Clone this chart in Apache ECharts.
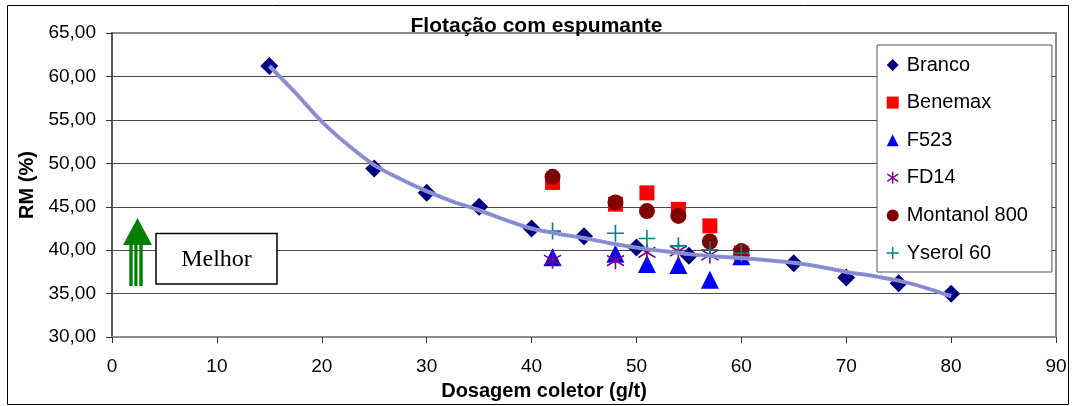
<!DOCTYPE html>
<html>
<head>
<meta charset="utf-8">
<script src="https://cdn.jsdelivr.net/npm/echarts@6/dist/echarts.min.js"></script>
<style>
  html, body { margin: 0; padding: 0; background: #fff; }
  #chart { width: 1073px; height: 406px; }
</style>
</head>
<body>
<div id="chart"></div>
<script>
// Collector dosage (g/t) and RM (%) per frother
const dosesBranco = [15, 25, 30, 35, 40, 45, 50, 55, 60, 65, 70, 75, 80];
const rmBranco    = [61.2, 49.4, 46.6, 45.0, 42.5, 41.6, 40.3, 39.35, 39.4, 38.5, 36.85, 36.2, 35.0];

const dosesTests  = [42, 48, 51, 54, 57, 60];
const rmBenemax   = [47.8, 45.3, 46.6, 44.7, 42.8, 39.65];
const rmF523      = [39.2, 39.6, 38.4, 38.3, 36.6, 39.3];
const rmFD14      = [38.85, 38.8, 39.75, 39.9, 39.45, 39.6];
const rmMontanol  = [48.45, 45.5, 44.5, 43.95, 41.0, 39.9];
const rmYserol    = [42.2, 41.95, 41.35, 40.5, 40.05, 39.65];

// Trend curve through the Branco points
const trendX = [15, 17.5, 20, 22.5, 25, 27.5, 30, 32.5, 35, 37.5, 40, 42.5, 45, 47.5,
                50, 52.5, 55, 57.5, 60, 62.5, 65, 67.5, 70, 72.5, 75, 77.5, 80];
const trendY = [61.2, 58.1, 54.8, 52.1, 49.8, 48.2, 46.8, 45.6, 44.6, 43.5, 42.5, 41.9, 41.4, 40.8,
                40.3, 39.9, 39.55, 39.3, 39.1, 38.85, 38.55, 38.1, 37.5, 37.05, 36.5, 35.7, 34.7];

const yTicks = { min: 30, max: 65, step: 5 };
const xTicks = { min: 0, max: 90, step: 10 };

const FONT = "'Liberation Sans', Arial, sans-serif";
const ASTERISK = 'path://M10,0L10,20M1,4L19,16M1,16L19,4';
const PLUS = 'path://M10,0L10,20M0,10L20,10';

const pairs = (xs, ys) => xs.map((x, i) => [x, ys[i]]);

function scatter(name, xs, ys, symbol, size, color, stroked) {
  return {
    name, type: 'scatter', data: pairs(xs, ys),
    symbol, symbolSize: size,
    itemStyle: stroked
      ? { color: 'rgba(0,0,0,0)', borderColor: color, borderWidth: 1.6, opacity: 1 }
      : { color, opacity: 1 },
    emphasis: { disabled: true },
    z: 3
  };
}

const chart = echarts.init(document.getElementById('chart'), null, { renderer: 'canvas' });

chart.setOption({
  animation: false,
  backgroundColor: '#fff',
  textStyle: { fontFamily: FONT },
  title: {
    text: 'Flotação com espumante',
    left: 'center', top: 11,
    textStyle: { fontFamily: FONT, fontSize: 21, fontWeight: 'bold', color: '#000' }
  },
  grid: {
    left: 112, right: 17, top: 33, bottom: 68,
    show: true, borderColor: '#8c8c8c', borderWidth: 2, backgroundColor: '#fff'
  },
  xAxis: {
    type: 'value', min: xTicks.min, max: xTicks.max, interval: xTicks.step,
    name: 'Dosagem coletor (g/t)', nameLocation: 'middle', nameGap: 43,
    nameTextStyle: { fontFamily: FONT, fontSize: 20, fontWeight: 'bold', color: '#000', padding: [0, 80, 0, 0] },
    axisLine: { show: true, onZero: false, lineStyle: { color: '#8c8c8c', width: 2 } },
    axisTick: { show: true, length: 6, lineStyle: { color: '#333' } },
    axisLabel: { fontFamily: FONT, fontSize: 19, color: '#000', margin: 20 },
    splitLine: { show: false }
  },
  yAxis: {
    type: 'value', min: yTicks.min, max: yTicks.max, interval: yTicks.step,
    name: 'RM (%)', nameLocation: 'middle', nameGap: 68, nameRotate: 90,
    nameTextStyle: { fontFamily: FONT, fontSize: 20, fontWeight: 'bold', color: '#000' },
    axisLine: { show: true, onZero: false, lineStyle: { color: '#555', width: 2 } },
    axisTick: { show: true, length: 6, lineStyle: { color: '#333' } },
    axisLabel: {
      fontFamily: FONT, fontSize: 19, color: '#000', margin: 16,
      formatter: v => v.toFixed(2).replace('.', ',')
    },
    splitLine: { show: true, showMinLine: false, showMaxLine: false, lineStyle: { color: '#4a4a4a', width: 1 } }
  },
  legend: {
    orient: 'vertical', left: 877, top: 45,
    padding: [10, 24, 9, 9], itemGap: 17.6,
    itemWidth: 12, itemHeight: 12,
    backgroundColor: '#fff', borderColor: '#555', borderWidth: 1,
    selectedMode: false,
    textStyle: { fontFamily: FONT, fontSize: 20, color: '#000', lineHeight: 18, padding: [0, 0, 0, 3] },
    data: [
      { name: 'Branco', icon: 'diamond' },
      { name: 'Benemax', icon: 'rect' },
      { name: 'F523', icon: 'triangle' },
      { name: 'FD14', icon: ASTERISK, itemStyle: { borderWidth: 1.4 } },
      { name: 'Montanol 800', icon: 'circle' },
      { name: 'Yserol 60', icon: PLUS, itemStyle: { borderWidth: 1.4 } }
    ]
  },
  series: [
    scatter('Branco', dosesBranco, rmBranco, 'diamond', 18, '#000080', false),
    scatter('Benemax', dosesTests, rmBenemax, 'rect', 15, '#ff0000', false),
    scatter('F523', dosesTests, rmF523, 'triangle', 18, '#0000ff', false),
    scatter('FD14', dosesTests, rmFD14, ASTERISK, 17, '#800080', true),
    scatter('Montanol 800', dosesTests, rmMontanol, 'circle', 16, '#800000', false),
    scatter('Yserol 60', dosesTests, rmYserol, PLUS, 17, '#008080', true),
    {
      name: 'trend', type: 'line', data: pairs(trendX, trendY),
      smooth: 0.3, showSymbol: false, silent: true, z: 4,
      lineStyle: { color: '#8f92d4', width: 4 }
    },
    {
      name: 'trend-core', type: 'line', data: pairs(trendX, trendY),
      smooth: 0.3, showSymbol: false, silent: true, z: 5,
      lineStyle: { color: '#5c60b4', width: 1, type: [1, 2] }
    }
  ],
  graphic: [
    // outer frame
    { type: 'rect', shape: { x: 7.5, y: 5.5, width: 1061, height: 399 },
      style: { fill: 'none', stroke: '#000', lineWidth: 1 }, z: 100, silent: true },
    // "better" indicator: striped green arrow
    { type: 'polygon', shape: { points: [[123, 245], [137.5, 218], [152, 245]] },
      style: { fill: '#008000' }, z: 100, silent: true },
    { type: 'rect', shape: { x: 129.3, y: 244, width: 3.4, height: 42 },
      style: { fill: '#008000' }, z: 100, silent: true },
    { type: 'rect', shape: { x: 134.3, y: 244, width: 3.2, height: 42 },
      style: { fill: '#008000' }, z: 100, silent: true },
    { type: 'rect', shape: { x: 139.3, y: 244, width: 3.4, height: 42 },
      style: { fill: '#008000' }, z: 100, silent: true },
    { type: 'rect', shape: { x: 156, y: 233.5, width: 121, height: 50.5 },
      style: { fill: '#fff', stroke: '#000', lineWidth: 1.5 }, z: 100, silent: true },
    { type: 'text', x: 216.5, y: 260, z: 101, silent: true,
      style: { text: 'Melhor', fontFamily: "'Liberation Serif', 'Times New Roman', serif",
               fontSize: 24, fill: '#000', align: 'center', verticalAlign: 'middle' } }
  ]
});
</script>
</body>
</html>
